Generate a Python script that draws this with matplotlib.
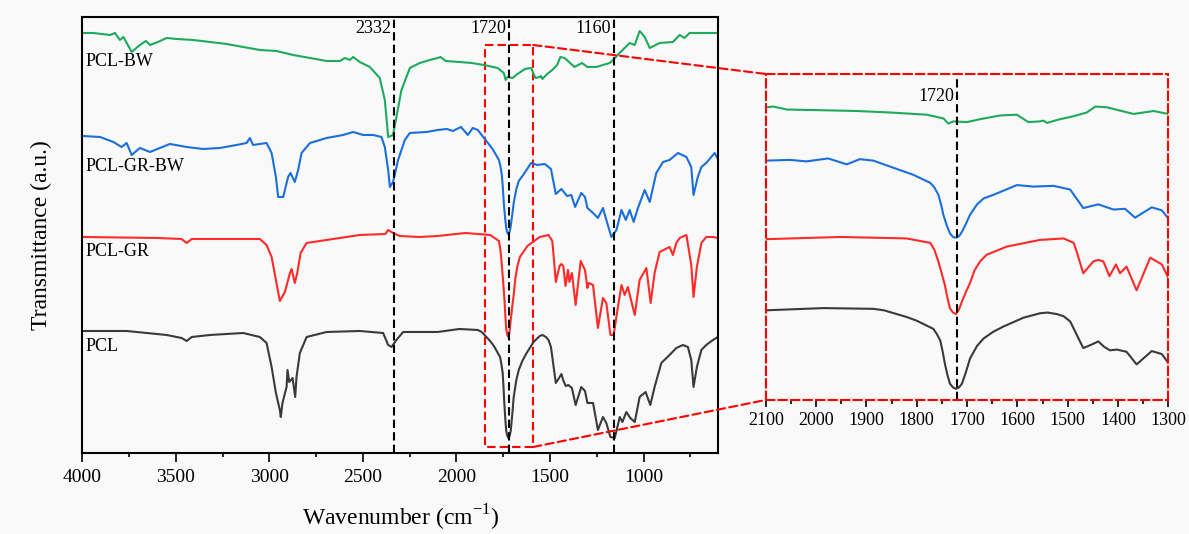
import matplotlib
matplotlib.use("Agg")
import matplotlib.pyplot as plt
from matplotlib.patches import Rectangle, ConnectionPatch
from matplotlib.ticker import MultipleLocator

plt.rcParams['font.family'] = ['Liberation Serif', 'DejaVu Serif']

# spectra: wavenumber (cm-1) and offset transmittance (a.u.)
bw_wn = [4000, 3941, 3852, 3825, 3799, 3780, 3736, 3692, 3660, 3638, 3596, 3549, 3496, 3407, 3318,
         3229, 3140, 3051, 2962, 2873, 2783, 2694, 2623, 2597, 2570, 2552, 2517, 2463, 2410, 2383,
         2365, 2339, 2321, 2294, 2249, 2196, 2143, 2100, 2085, 2058, 1985, 1919, 1853, 1780, 1747,
         1737, 1727, 1700, 1674, 1634, 1601, 1578, 1555, 1548, 1541, 1515, 1488, 1462, 1445, 1422,
         1369, 1329, 1300, 1252, 1181, 1163, 1128, 1074, 1047, 1021, 994, 967, 914, 843, 807,
         781, 754, 603]
bw_t = [420, 420, 418, 420, 413, 416, 401, 408, 412, 408, 411, 415, 414, 413, 411,
        409, 406, 403, 402, 398, 395, 392, 392, 395, 393, 396, 391, 386, 375, 353,
        316, 318, 336, 363, 385, 390, 393, 395, 396, 392, 391, 390, 388, 385, 380,
        373, 376, 375, 379, 384, 385, 375, 376, 377, 374, 379, 383, 388, 396, 395,
        386, 390, 386, 386, 390, 393, 400, 410, 408, 422, 416, 405, 410, 411, 418,
        415, 420, 420]

grbw_wn = [4000, 3905, 3834, 3790, 3763, 3736, 3692, 3638, 3585, 3532, 3442, 3354, 3264, 3175, 3122,
           3104, 3087, 3015, 2988, 2965, 2953, 2926, 2900, 2887, 2864, 2846, 2828, 2783, 2694, 2606,
           2552, 2499, 2446, 2401, 2383, 2365, 2356, 2339, 2312, 2276, 2249, 2160, 2100, 2052, 2019,
           1976, 1939, 1913, 1886, 1853, 1807, 1773, 1765, 1757, 1752, 1747, 1740, 1734, 1728, 1722,
           1716, 1710, 1702, 1694, 1680, 1667, 1647, 1601, 1568, 1528, 1495, 1469, 1439, 1409, 1386,
           1366, 1333, 1313, 1300, 1270, 1244, 1217, 1199, 1172, 1145, 1118, 1095, 1074, 1053, 1030,
           994, 967, 932, 896, 861, 816, 771, 745, 733, 710, 691, 665, 638, 620, 603]
grbw_t = [317, 316, 311, 306, 310, 298, 305, 301, 305, 309, 306, 304, 305, 308, 310,
          315, 308, 310, 300, 276, 256, 256, 276, 280, 271, 283, 300, 310, 315, 318,
          321, 318, 318, 316, 306, 283, 266, 271, 293, 313, 320, 321, 323, 324, 322,
          326, 318, 325, 323, 315, 304, 293, 287, 277, 265, 250, 235, 225, 220, 219,
          221, 227, 238, 250, 264, 272, 277, 290, 288, 289, 284, 259, 264, 257, 258,
          246, 260, 256, 245, 240, 235, 245, 233, 216, 223, 243, 233, 243, 231, 245,
          263, 251, 280, 291, 293, 300, 296, 286, 258, 276, 286, 290, 296, 300, 294]

gr_wn = [4000, 3600, 3470, 3442, 3415, 3300, 3051, 3015, 2988, 2965, 2944, 2917, 2890, 2881, 2864,
         2851, 2833, 2801, 2694, 2517, 2380, 2365, 2339, 2303, 2200, 2100, 1952, 1820, 1773, 1765,
         1757, 1750, 1744, 1739, 1734, 1728, 1722, 1716, 1710, 1702, 1694, 1685, 1674, 1661, 1621,
         1555, 1508, 1488, 1482, 1469, 1449, 1439, 1429, 1417, 1404, 1396, 1383, 1363, 1336, 1313,
         1300, 1293, 1270, 1244, 1217, 1199, 1177, 1160, 1137, 1118, 1101, 1084, 1047, 1021, 985,
         962, 941, 914, 861, 843, 825, 807, 771, 745, 733, 715, 691, 665, 629, 603]
gr_t = [216, 215, 214, 210, 214, 214, 214, 208, 196, 173, 152, 161, 180, 184, 170,
        180, 200, 210, 213, 218, 219, 223, 220, 217, 216, 217, 220, 218, 212, 203,
        187, 170, 155, 138, 124, 118, 116, 122, 133, 146, 158, 175, 187, 196, 207,
        216, 218, 212, 200, 171, 187, 189, 187, 167, 183, 171, 180, 148, 192, 183,
        165, 170, 168, 125, 155, 150, 118, 118, 146, 168, 158, 166, 138, 173, 185,
        150, 180, 201, 206, 198, 210, 215, 218, 188, 156, 186, 210, 216, 216, 215]

pcl_wn = [4000, 3763, 3549, 3469, 3442, 3415, 3318, 3140, 3051, 3015, 2988, 2965, 2944, 2939, 2930,
          2908, 2903, 2894, 2876, 2862, 2855, 2837, 2801, 2694, 2517, 2392, 2365, 2347, 2321, 2285,
          2160, 2100, 1985, 1886, 1865, 1840, 1820, 1800, 1785, 1767, 1760, 1753, 1748, 1744, 1739,
          1734, 1728, 1722, 1716, 1710, 1702, 1694, 1680, 1667, 1648, 1628, 1588, 1555, 1540, 1522,
          1508, 1495, 1482, 1469, 1455, 1439, 1428, 1416, 1402, 1383, 1363, 1333, 1313, 1300, 1270,
          1244, 1217, 1199, 1177, 1154, 1127, 1113, 1092, 1071, 1047, 1021, 989, 964, 941, 905,
          861, 825, 790, 763, 745, 733, 715, 691, 665, 629, 603]
pcl_t = [122, 122, 118, 115, 112, 116, 118, 120, 116, 110, 86, 60, 43, 36, 50,
         66, 83, 71, 75, 56, 76, 100, 116, 121, 122, 120, 108, 106, 113, 121,
         121, 121, 124, 123, 121, 116, 112, 107, 102, 96, 89, 80, 64, 49, 34,
         22, 17, 15, 17, 22, 38, 56, 73, 83, 92, 99, 111, 117, 118, 116,
         113, 106, 88, 70, 74, 79, 72, 67, 68, 65, 48, 66, 62, 50, 50,
         23, 36, 30, 16, 15, 36, 31, 41, 35, 31, 56, 61, 48, 66, 90,
         98, 105, 108, 106, 93, 66, 86, 103, 108, 113, 116]

names = ['PCL-BW', 'PCL-GR-BW', 'PCL-GR', 'PCL']
label_y = [391, 286, 201, 106]
colors = ['#1daa5c', '#1a6fdc', '#ff2a2a', '#3a3a3a']
spectra = [(bw_wn, bw_t), (grbw_wn, grbw_t), (gr_wn, gr_t), (pcl_wn, pcl_t)]
marks = [2332, 1720, 1160]

dash = (0, (4, 2))
fig = plt.figure(figsize=(11.89, 5.34), dpi=100, facecolor='#f9f9f9')

ax = fig.add_axes([0.0692, 0.1517, 0.535, 0.8165], facecolor='#f9f9f9')
for (wn, t), c in zip(spectra, colors):
    ax.plot(wn, t, color=c, lw=1.5)
for name, y in zip(names, label_y):
    ax.text(3982, y, name, fontsize=13, ha='left', va='center')
for m in marks:
    ax.axvline(m, color='k', ls=dash, lw=1.5)
    ax.annotate(str(m), xy=(m, 424), xytext=(-2, 0), textcoords='offset points',
                ha='right', va='center', fontsize=13)
ax.add_patch(Rectangle((1590, 6), 255, 402, fill=False, ec='red', ls=dash, lw=1.5))
ax.set_xlim(4000, 600)
ax.set_ylim(0, 436)
ax.set_xticks([4000, 3500, 3000, 2500, 2000, 1500, 1000])
ax.xaxis.set_minor_locator(MultipleLocator(250))
ax.set_yticks([])
ax.tick_params(axis='x', which='major', direction='out', length=6.5, width=1.2, labelsize=14, pad=5)
ax.tick_params(axis='x', which='minor', direction='out', length=3, width=1.2)
for sp in ax.spines.values():
    sp.set_linewidth(1.5)
ax.set_xlabel('Wavenumber (cm$^{\\mathregular{-1}}$)', fontsize=17, labelpad=12)
ax.set_ylabel('Transmittance (a.u.)', fontsize=17, labelpad=22)

axin = fig.add_axes([0.644, 0.251, 0.3386, 0.6105], facecolor='#f9f9f9')
for (wn, t), c in zip(spectra, colors):
    axin.plot(wn, t, color=c, lw=1.5)
axin.axvline(1720, color='k', ls=dash, lw=1.5)
axin.annotate('1720', xy=(1720, 410), xytext=(-2, 0), textcoords='offset points',
              ha='right', va='center', fontsize=13)
axin.set_xlim(2100, 1300)
axin.set_ylim(0, 440)
axin.set_xticks(range(2100, 1299, -100))
axin.xaxis.set_minor_locator(MultipleLocator(50))
axin.set_yticks([])
axin.tick_params(axis='x', which='major', direction='out', length=5, width=1.2, labelsize=13, pad=4)
axin.tick_params(axis='x', which='minor', direction='out', length=3, width=1.2)
for sp in axin.spines.values():
    sp.set_color('red')
    sp.set_linestyle(dash)
    sp.set_linewidth(1.5)

for ya, yb in [(408, 1), (6, 0)]:
    con = ConnectionPatch(xyA=(1590, ya), coordsA=ax.transData, xyB=(0, yb), coordsB=axin.transAxes,
                          color='red', ls=dash, lw=1.5)
    fig.add_artist(con)

fig.savefig('out.png', dpi=100, facecolor=fig.get_facecolor())
